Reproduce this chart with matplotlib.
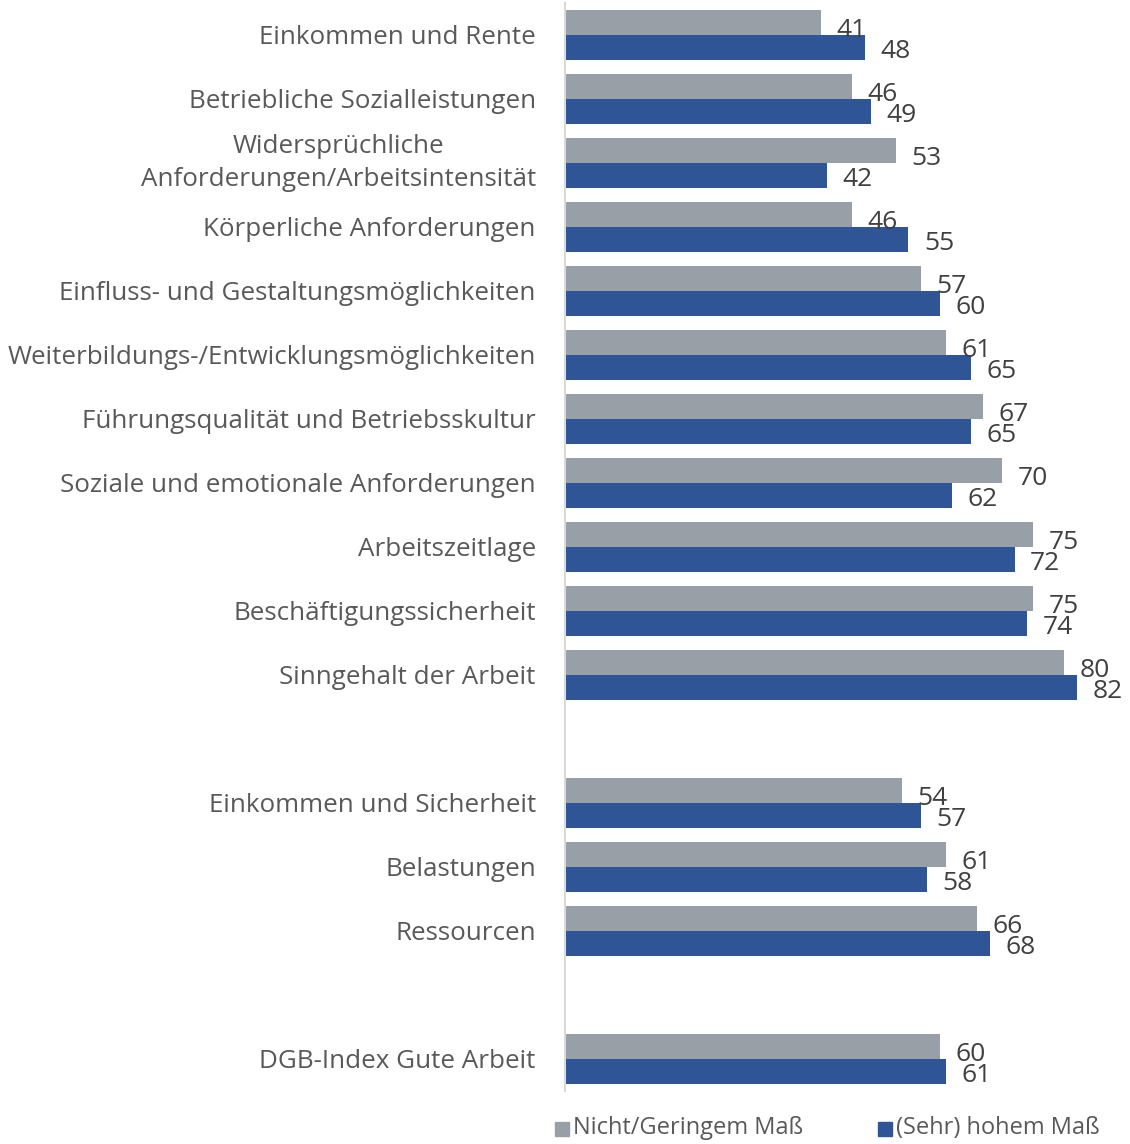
import matplotlib.pyplot as plt
import numpy as np

categories = ["Einkommen und Rente",
              "Betriebliche Sozialleistungen",
              "Widersprüchliche\nAnforderungen/Arbeitsintensität",
              "Körperliche Anforderungen",
              "Einfluss- und Gestaltungsmöglichkeiten",
              "Weiterbildungs-/Entwicklungsmöglichkeiten",
              "Führungsqualität und Betriebsskultur",
              "Soziale und emotionale Anforderungen",
              "Arbeitszeitlage",
              "Beschäftigungssicherheit",
              "Sinngehalt der Arbeit",
              "",
              "Einkommen und Sicherheit",
              "Belastungen",
              "Ressourcen",
              "",
              "DGB-Index Gute Arbeit"]

gering = [41, 46, 53, 46, 57, 61, 67, 70, 75, 75, 80, None, 54, 61, 66, None, 60]
hoch = [48, 49, 42, 55, 60, 65, 65, 62, 72, 74, 82, None, 57, 58, 68, None, 61]

series_names = ["Nicht/Geringem Maß", "(Sehr) hohem Maß"]
colors = ["#989fa7", "#2f5597"]

plt.rcParams['font.family'] = ['Open Sans', 'DejaVu Sans']

fig = plt.figure(figsize=(11.3, 11.44), dpi=100)
ax = fig.add_axes([565 / 1130, 53 / 1144, 1 - 565 / 1130, (1091 - 3) / 1144])

y = np.arange(len(categories))
h = 0.39
for vals, off, toff, c in zip([gering, hoch], [-0.19, 0.2], [-0.07, 0.25], colors):
    for i, v in enumerate(vals):
        if v is None:
            continue
        ax.barh(y[i] + off, v, height=h, color=c)
        ax.text(v + 2.5, y[i] + toff, str(v), ha='left', va='center',
                fontsize=19, color='#404040')

ax.set_ylim(len(categories) - 0.5, -0.5)
ax.set_xlim(0, 90.5)
ax.set_yticks(y)
ax.set_yticklabels(categories, fontsize=18.7, color='#595959', multialignment='center',
                   linespacing=1.45)
for lbl in ax.get_yticklabels():
    if "\n" in lbl.get_text():
        lbl.set_va('center')
ax.tick_params(axis='y', length=0, pad=21)
ax.set_xticks([])
for s in ['top', 'right', 'bottom']:
    ax.spines[s].set_visible(False)
ax.spines['left'].set_color('#d9d9d9')
ax.spines['left'].set_linewidth(1.5)

# legend drawn by hand as markers + text
for x0, name, c in zip([555, 878], series_names, colors):
    fig.patches.append(plt.Rectangle((x0 / 1130, (1144 - 1136) / 1144), 14 / 1130, 14 / 1144,
                                     transform=fig.transFigure, color=c))
    fig.text((x0 + 18) / 1130, (1144 - 1128) / 1144, name, fontsize=17, color='#595959',
             va='center', ha='left')

fig.savefig("out.png", dpi=100)
